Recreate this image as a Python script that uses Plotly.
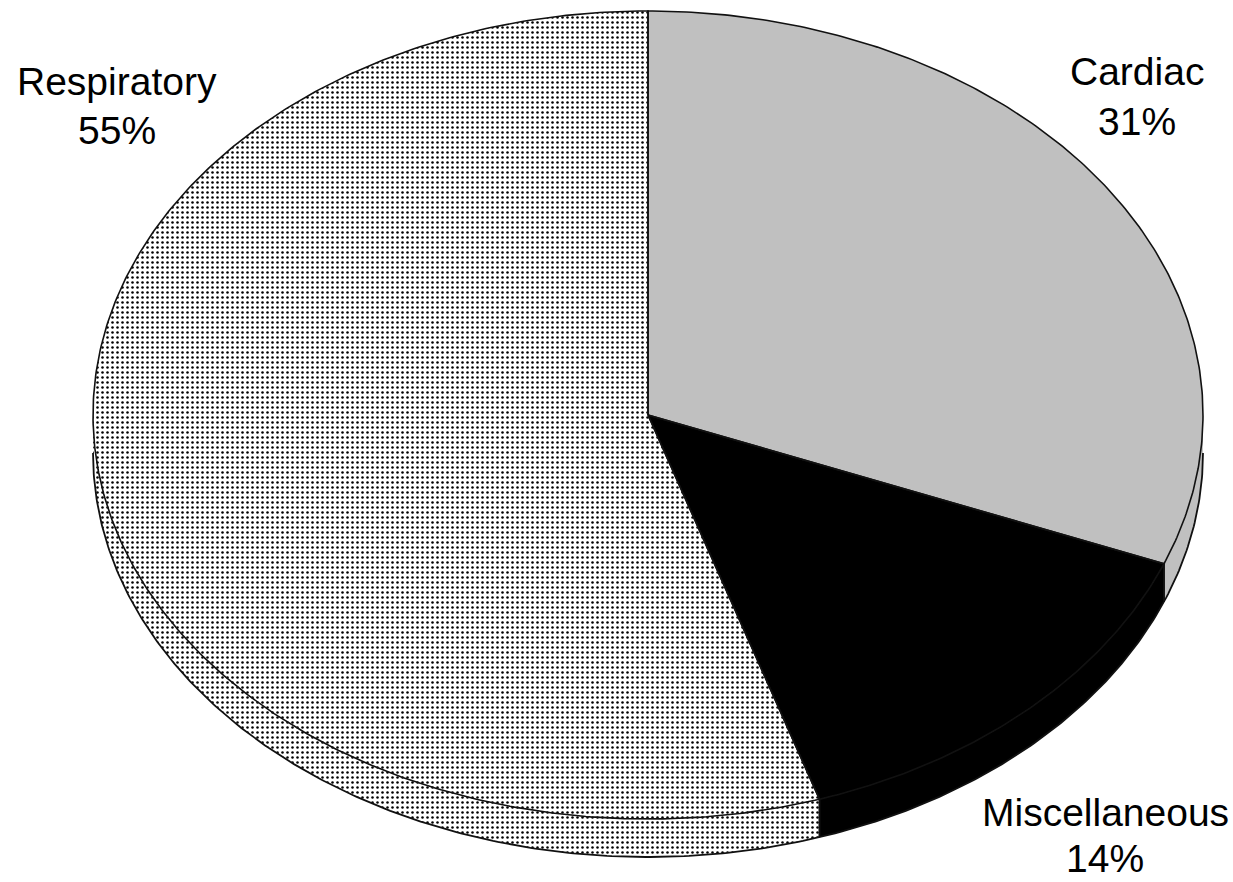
import numpy as np
import plotly.graph_objects as go

# Data: share of cases by cause (percent), clockwise from 12 o'clock
categories = ["Cardiac", "Miscellaneous", "Respiratory"]
shares = [31, 14, 55]

# Figure / pie geometry (axis units: 1 unit = horizontal radius)
W, H = 1233, 882
PX = 555.0                     # pixels per axis unit
CX_PX, CY_PX = 648, 415        # pie centre in page pixels
RX, RY = 1.0, 404 / PX         # ellipse radii of the top face
DEPTH = 38 / PX                # thickness of the pie

x_range = [-CX_PX / PX, (W - CX_PX) / PX]
y_range = [-(H - CY_PX) / PX, CY_PX / PX]

OUTLINE = "#111111"

styles = {
    "Cardiac": dict(fillcolor="#c0c0c0", pattern=None),
    "Miscellaneous": dict(fillcolor="#000000", pattern=None),
    "Respiratory": dict(fillcolor="#ffffff",
                        pattern=dict(shape=".", size=5, solidity=0.2,
                                     fgcolor="#000000", bgcolor="#ffffff",
                                     fillmode="replace")),
}

# label placement: (x px, y px of first line, y px of second line)
label_pos = {
    "Cardiac": (1137, 71, 121),
    "Miscellaneous": (1105, 812, 858),
    "Respiratory": (117, 82, 130),
}


def arc(t0, t1, dy=0.0):
    n = max(int(abs(t1 - t0) * 2) + 2, 3)
    t = np.radians(np.linspace(t0, t1, n))
    return RX * np.sin(t), RY * np.cos(t) - dy


def fill_trace(xs, ys, style):
    kw = dict(x=xs, y=ys, mode="lines", fill="toself",
              line=dict(width=0, color=OUTLINE),
              fillcolor=style["fillcolor"], hoverinfo="skip",
              showlegend=False)
    if style["pattern"] is not None:
        kw["fillpattern"] = style["pattern"]
    return go.Scatter(**kw)


def line_trace(xs, ys, width=1.8):
    return go.Scatter(x=xs, y=ys, mode="lines",
                      line=dict(width=width, color=OUTLINE),
                      hoverinfo="skip", showlegend=False)


# slice angle ranges (degrees clockwise from top)
bounds = np.concatenate([[0], np.cumsum(shares)]) / sum(shares) * 360.0
slices = [(c, bounds[i], bounds[i + 1]) for i, c in enumerate(categories)]

side_traces, top_traces, outline_traces = [], [], []

# visible side wall lies on the front half of the ellipse (90..270 deg)
for name, a, b in slices:
    lo, hi = max(a, 90.0), min(b, 270.0)
    if hi <= lo:
        continue
    tx, ty = arc(lo, hi)
    bx, by = arc(hi, lo, DEPTH)
    xs = np.concatenate([tx, bx, tx[:1]])
    ys = np.concatenate([ty, by, ty[:1]])
    side_traces.append(fill_trace(xs, ys, styles[name]))
    # vertical edges where slices meet on the wall
    for t in (lo, hi):
        if 90.0 < t < 270.0:
            ex, ey = arc(t, t)
            outline_traces.append(line_trace([ex[0], ex[0]],
                                             [ey[0], ey[0] - DEPTH], 1.6))

# bottom rim of the wall
bx, by = arc(90.0, 270.0, DEPTH)
outline_traces.append(line_trace(bx, by))

# top faces
for name, a, b in slices:
    ax_, ay_ = arc(a, b)
    xs = np.concatenate([[0.0], ax_, [0.0]])
    ys = np.concatenate([[0.0], ay_, [0.0]])
    top_traces.append(fill_trace(xs, ys, styles[name]))
    outline_traces.append(line_trace(xs, ys, 1.6))

fig = go.Figure(side_traces + top_traces + outline_traces)

font = dict(family="Arial, Liberation Sans, sans-serif", size=39,
            color="#000000")
annotations = []
for name, share in zip(categories, shares):
    x, y1, y2 = label_pos[name]
    for text, y in ((name, y1), (f"{share}%", y2)):
        annotations.append(dict(text=text, x=x / W, y=1 - y / H,
                                xref="paper", yref="paper",
                                xanchor="center", yanchor="middle",
                                showarrow=False, font=font))

fig.update_layout(
    width=W, height=H,
    margin=dict(l=0, r=0, t=0, b=0),
    paper_bgcolor="#ffffff", plot_bgcolor="#ffffff",
    xaxis=dict(range=x_range, visible=False, fixedrange=True),
    yaxis=dict(range=y_range, visible=False, fixedrange=True),
    annotations=annotations,
    showlegend=False,
)

fig.write_html("out.html")
